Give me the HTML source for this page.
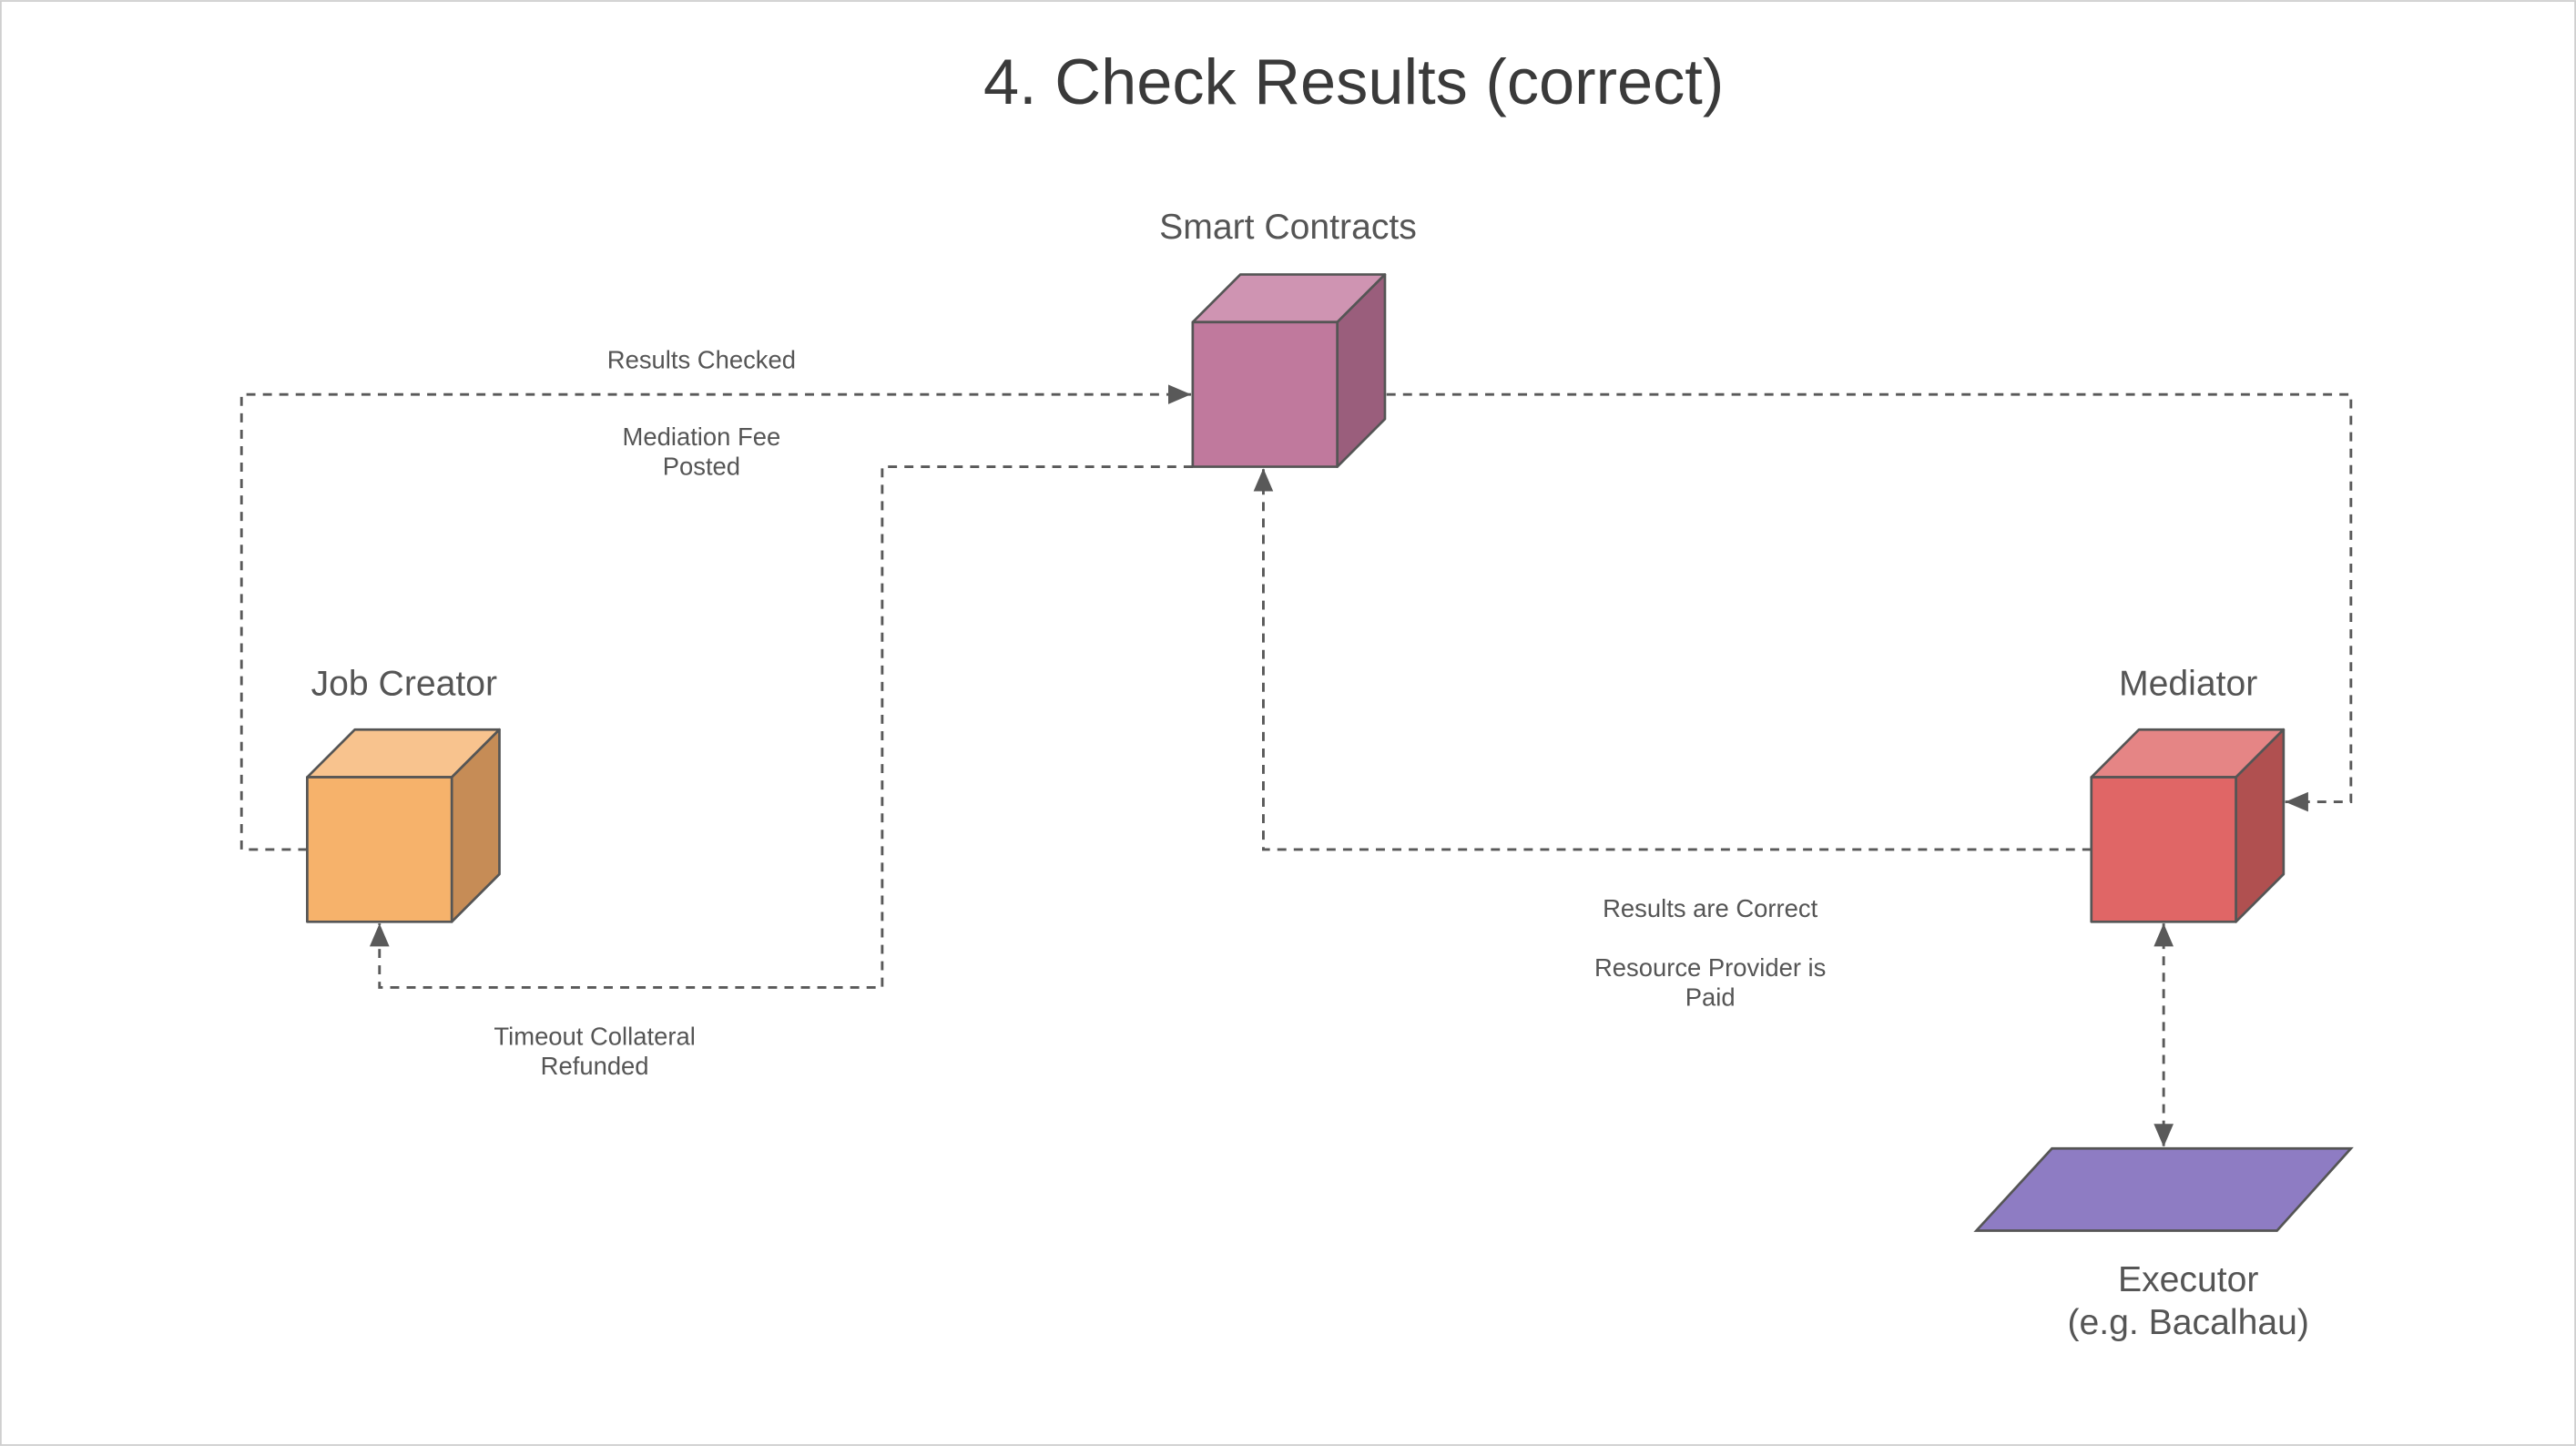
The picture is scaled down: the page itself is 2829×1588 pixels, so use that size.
<!DOCTYPE html>
<html><head><meta charset="utf-8"><style>
html,body{margin:0;padding:0;background:#fff;}
svg{display:block;}
text{font-family:"Liberation Sans",sans-serif;}
</style></head><body>
<svg width="2829" height="1588" viewBox="0 0 1568 880" xmlns="http://www.w3.org/2000/svg">
<defs>
<marker id="a" viewBox="0 0 14 12" refX="14" refY="6" markerWidth="14" markerHeight="12" markerUnits="userSpaceOnUse" orient="auto-start-reverse">
<path d="M0,0 L14,6 L0,12 z" fill="#595959"/></marker>
</defs>
<rect x="0.5" y="0.5" width="1567" height="879" fill="#fff" stroke="#cfcfcf" stroke-width="1"/>
<text x="824" y="63" font-size="39" fill="#3a3a3a" text-anchor="middle">4. Check Results (correct)</text>

<g fill="none" stroke="#595959" stroke-width="1.6" stroke-dasharray="5.5 4.5">
<path d="M187,517 H147 V240 H725" marker-end="url(#a)"/>
<path d="M726,284 H537 V601 H231 V562" marker-end="url(#a)"/>
<path d="M814,240 H1431 V488 H1391" marker-end="url(#a)"/>
<path d="M1273,517 H769 V285" marker-end="url(#a)"/>
<path d="M1317,562 V698" marker-start="url(#a)" marker-end="url(#a)"/>
</g>

<!-- Smart Contracts -->
<g stroke="#555" stroke-width="1.5" stroke-linejoin="round">
<polygon points="726,196 755,167 843,167 814,196" fill="#cf94b2"/>
<polygon points="814,196 843,167 843,255 814,284" fill="#9a5e7c"/>
<rect x="726" y="196" width="88" height="88" fill="#c0799d"/>
</g>
<text x="784" y="145" font-size="21.7" fill="#555" text-anchor="middle">Smart Contracts</text>

<!-- Job Creator -->
<g stroke="#555" stroke-width="1.5" stroke-linejoin="round">
<polygon points="187,473 216,444 304,444 275,473" fill="#f8c38e"/>
<polygon points="275,473 304,444 304,532 275,561" fill="#c68c56"/>
<rect x="187" y="473" width="88" height="88" fill="#f6b26b"/>
</g>
<text x="246" y="423" font-size="21.7" fill="#555" text-anchor="middle">Job Creator</text>

<!-- Mediator -->
<g stroke="#555" stroke-width="1.5" stroke-linejoin="round">
<polygon points="1273,473 1302,444 1390,444 1361,473" fill="#e58585"/>
<polygon points="1361,473 1390,444 1390,532 1361,561" fill="#b05050"/>
<rect x="1273" y="473" width="88" height="88" fill="#e06666"/>
</g>
<text x="1332" y="423" font-size="21.7" fill="#555" text-anchor="middle">Mediator</text>

<!-- Executor -->
<polygon points="1203,749 1249,699 1431,699 1386,749" fill="#8e7cc3" stroke="#555" stroke-width="1.5"/>
<text x="1332" y="786" font-size="21.7" fill="#555" text-anchor="middle">Executor</text>
<text x="1332" y="812" font-size="21.7" fill="#555" text-anchor="middle">(e.g. Bacalhau)</text>

<g font-size="15.2" fill="#555" text-anchor="middle">
<text x="427" y="224">Results Checked</text>
<text x="427" y="271">Mediation Fee</text>
<text x="427" y="289">Posted</text>
<text x="362" y="636">Timeout Collateral</text>
<text x="362" y="654">Refunded</text>
<text x="1041" y="558">Results are Correct</text>
<text x="1041" y="594">Resource Provider is</text>
<text x="1041" y="612">Paid</text>
</g>
</svg>
</body></html>
